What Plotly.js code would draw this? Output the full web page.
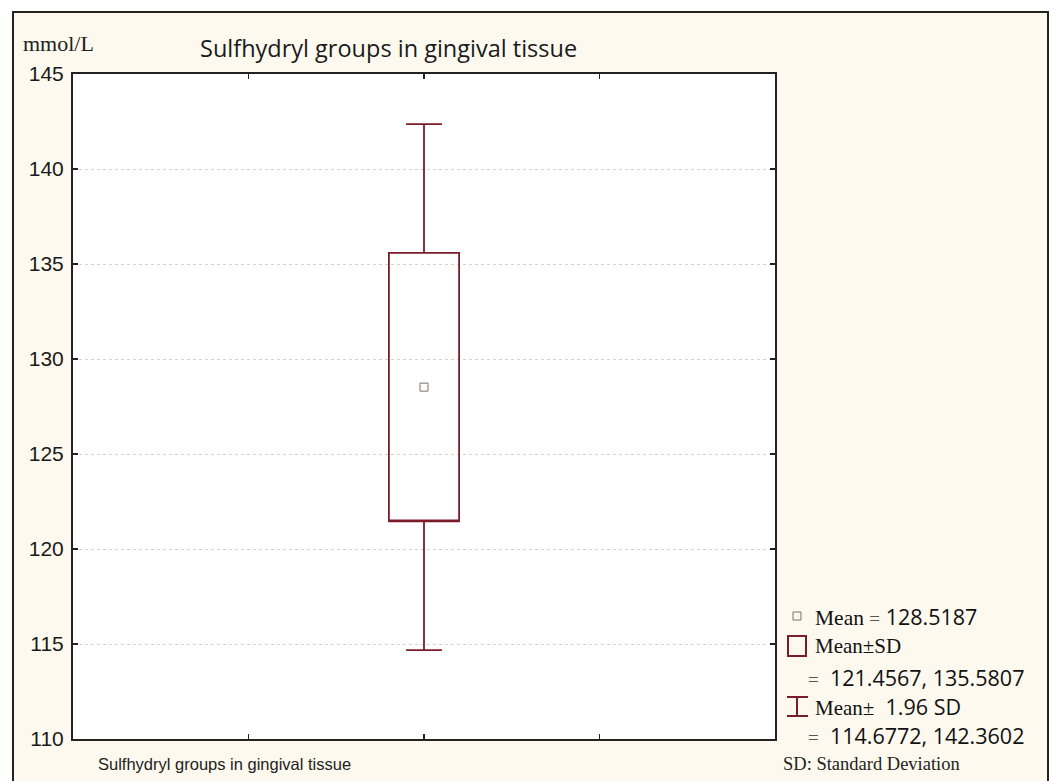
<!DOCTYPE html>
<html>
<head>
<meta charset="utf-8">
<script src="https://cdn.plot.ly/plotly-3.0.1.min.js"></script>
<style>html,body{margin:0;padding:0;background:#fff}</style>
</head>
<body>
<div id="chart" style="width:1057px;height:781px"></div>
<script>
// ---- data ----
const categories = ['Sulfhydryl groups in gingival tissue'];
const meanValues = [128.5187];
const sdLower = [121.4567];
const sdUpper = [135.5807];
const ci196Lower = [114.6772];
const ci196Upper = [142.3602];
const yTickVals = [110, 115, 120, 125, 130, 135, 140, 145];
const chartTitle = 'Sulfhydryl groups in gingival tissue';
const yUnit = 'mmol/L';

const RED = '#7b1c2a';
const SANS = 'Liberation Sans, Arial, sans-serif';
const OPEN = 'Open Sans, Liberation Sans, sans-serif';
const SERIF = 'Liberation Serif, Times New Roman, serif';

const boxTrace = {
  type: 'box',
  x: categories,
  q1: sdLower,
  median: sdLower,
  q3: sdUpper,
  lowerfence: ci196Lower,
  upperfence: ci196Upper,
  width: 0.4,
  whiskerwidth: 0.51,
  fillcolor: 'rgba(255,255,255,0)',
  line: {color: RED, width: 1.8},
  boxpoints: false,
  hoverinfo: 'none',
  showlegend: false
};

const meanTrace = {
  type: 'scatter',
  mode: 'markers',
  x: categories,
  y: meanValues,
  marker: {symbol: 'square-open', size: 8, color: '#7d6f68', line: {width: 1}},
  hoverinfo: 'none',
  showlegend: false
};

// paper coordinate helpers (plot area 73..775 x 74..739)
const px = v => (v - 73) / 702;
const py = v => (739 - v) / 665;

const fmt = v => v.toFixed(4);
const EQ = '<span style="font-family:Liberation Serif;font-size:19px;fill:#555">=</span>';

const annotations = [
  {xref: 'paper', yref: 'paper', x: px(388), y: py(48), text: chartTitle, showarrow: false,
   xanchor: 'center', yanchor: 'middle', font: {family: OPEN, size: 23.5, color: '#1a1a1a'}},
  {xref: 'paper', yref: 'paper', x: px(21), y: py(44), text: yUnit, showarrow: false,
   xanchor: 'left', yanchor: 'middle', font: {family: SERIF, size: 22, color: '#222'}},
  {xref: 'paper', yref: 'paper', x: px(96), y: py(764), text: categories[0], showarrow: false,
   xanchor: 'left', yanchor: 'middle', font: {family: SANS, size: 16.5, color: '#222'}},
  {xref: 'paper', yref: 'paper', x: px(813), y: py(616), showarrow: false, xanchor: 'left', yanchor: 'middle',
   text: '<span style="font-family:Liberation Serif">Mean </span>' + EQ + '&nbsp;' + fmt(meanValues[0]),
   font: {family: OPEN, size: 21.5, color: '#111'}},
  {xref: 'paper', yref: 'paper', x: px(813), y: py(646), showarrow: false, xanchor: 'left', yanchor: 'middle',
   text: 'Mean±SD', font: {family: SERIF, size: 21, color: '#111'}},
  {xref: 'paper', yref: 'paper', x: px(806), y: py(677), showarrow: false, xanchor: 'left', yanchor: 'middle',
   text: EQ + '&nbsp;&nbsp;' + fmt(sdLower[0]) + ', ' + fmt(sdUpper[0]),
   font: {family: OPEN, size: 21.5, color: '#111'}},
  {xref: 'paper', yref: 'paper', x: px(813), y: py(706), showarrow: false, xanchor: 'left', yanchor: 'middle',
   text: '<span style="font-family:Liberation Serif;font-size:21px">Mean±</span>&nbsp;&nbsp;1.96 SD',
   font: {family: OPEN, size: 21.5, color: '#111'}},
  {xref: 'paper', yref: 'paper', x: px(806), y: py(735), showarrow: false, xanchor: 'left', yanchor: 'middle',
   text: EQ + '&nbsp;&nbsp;' + fmt(ci196Lower[0]) + ', ' + fmt(ci196Upper[0]),
   font: {family: OPEN, size: 21.5, color: '#111'}},
  {xref: 'paper', yref: 'paper', x: px(781), y: py(764), showarrow: false, xanchor: 'left', yanchor: 'middle',
   text: 'SD: Standard Deviation', font: {family: SERIF, size: 18.5, color: '#222'}}
];

const shapes = [
  // outer cream frame
  {type: 'rect', xref: 'paper', yref: 'paper', x0: px(13), x1: px(1048), y0: py(800), y1: py(12),
   fillcolor: '#fdf9ee', line: {color: '#222', width: 2}, layer: 'below'},
  // white plotting area
  {type: 'rect', xref: 'paper', yref: 'paper', x0: 0, x1: 1, y0: 0, y1: 1,
   fillcolor: '#ffffff', line: {width: 0}, layer: 'below'},
  // legend: mean marker
  {type: 'rect', xref: 'paper', yref: 'paper', x0: px(793), x1: px(801), y0: py(620), y1: py(612),
   fillcolor: 'rgba(0,0,0,0)', line: {color: '#7d6f68', width: 1}},
  // legend: box symbol
  {type: 'rect', xref: 'paper', yref: 'paper', x0: px(788), x1: px(806), y0: py(656), y1: py(636),
   fillcolor: 'rgba(0,0,0,0)', line: {color: RED, width: 2}},
  // legend: whisker symbol
  {type: 'line', xref: 'paper', yref: 'paper', x0: px(797), x1: px(797), y0: py(716), y1: py(697),
   line: {color: RED, width: 2}},
  {type: 'line', xref: 'paper', yref: 'paper', x0: px(787), x1: px(808), y0: py(697), y1: py(697),
   line: {color: RED, width: 2}},
  {type: 'line', xref: 'paper', yref: 'paper', x0: px(787), x1: px(808), y0: py(716), y1: py(716),
   line: {color: RED, width: 2}}
];

const layout = {
  width: 1057, height: 781, autosize: false,
  margin: {l: 73, r: 282, t: 74, b: 42, pad: 0},
  paper_bgcolor: '#ffffff',
  plot_bgcolor: 'rgba(0,0,0,0)',
  showlegend: false,
  xaxis: {
    type: 'category', range: [-2, 2],
    tickmode: 'array', tickvals: [-1, 0, 1], ticktext: ['', '', ''],
    ticks: 'inside', ticklen: 5, tickcolor: '#222', tickwidth: 1.5,
    showline: true, linecolor: '#222', linewidth: 2, mirror: 'ticks',
    showgrid: false, zeroline: false, fixedrange: true
  },
  yaxis: {
    range: [110, 145],
    tickmode: 'array', tickvals: yTickVals,
    ticks: 'inside', ticklen: 5, tickcolor: '#222', tickwidth: 1.5,
    showline: true, linecolor: '#222', linewidth: 2, mirror: 'ticks',
    showgrid: true, gridcolor: '#d2d2d2', griddash: 'dot', gridwidth: 1,
    zeroline: false, fixedrange: true,
    tickfont: {family: SANS, size: 21, color: '#1a1a1a'},
    ticklabelstandoff: 3
  },
  annotations: annotations,
  shapes: shapes
};

Plotly.newPlot('chart', [boxTrace, meanTrace], layout, {displayModeBar: false, staticPlot: true});
</script>
</body>
</html>
